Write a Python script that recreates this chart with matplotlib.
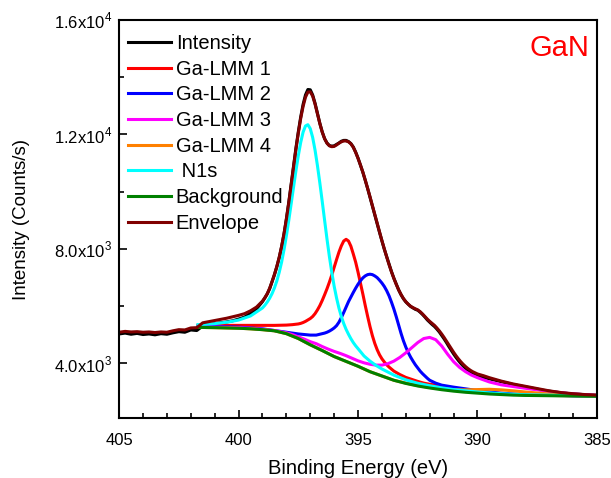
import numpy as np
import matplotlib
matplotlib.use('Agg')
import matplotlib.pyplot as plt
from matplotlib.ticker import MultipleLocator, FixedLocator

plt.rcParams['font.family'] = ['Liberation Sans', 'DejaVu Sans']
plt.rcParams['mathtext.fontset'] = 'custom'
plt.rcParams['mathtext.rm'] = 'Liberation Sans'

# measured spectrum + fit envelope (0.25 eV steps on the flat parts, 0.1 eV across the peaks)
energy_raw = np.round(np.concatenate([np.arange(405.0, 399.2, -0.25),
                                      np.arange(399.0, 389.95, -0.1),
                                      np.arange(389.75, 384.99, -0.25)]), 2)

intensity = [5020, 5050, 5010, 5040, 5000, 5020, 4990, 5030, 5010, 5060,
             5100, 5080, 5160, 5140, 5300, 5330, 5380, 5410, 5440, 5480,
             5540, 5610, 5740, 5900,
             6150, 6280, 6420, 6600, 6840, 7090, 7370, 7690, 8070, 8510,
             9040, 9620, 10250, 10900, 11520, 12090, 12610, 13050, 13380, 13570,
             13560, 13380, 13090, 12740, 12390, 12090, 11850, 11700, 11610, 11590,
             11600, 11650, 11700, 11760, 11790, 11790, 11750, 11680, 11560, 11380,
             11170, 10930, 10680, 10400, 10110, 9800, 9500, 9180, 8880, 8570,
             8270, 7980, 7720, 7450, 7200, 6970, 6760, 6560, 6390, 6250,
             6140, 6060, 5980, 5930, 5880, 5850, 5780, 5700, 5610, 5510,
             5430, 5350, 5280, 5190, 5090, 4970, 4850, 4720, 4580, 4450,
             4320, 4200, 4090, 3990, 3900, 3820, 3750, 3690, 3640, 3600,
             3570,
             3500, 3450, 3400, 3350, 3300, 3250, 3210, 3170, 3130, 3090,
             3050, 3020, 2990, 2960, 2940, 2920, 2910, 2895, 2885, 2875]

envelope = [5080, 5110, 5090, 5100, 5080, 5090, 5070, 5090, 5080, 5130,
            5170, 5160, 5230, 5240, 5410, 5450, 5490, 5530, 5570, 5620,
            5670, 5730, 5830, 5960,
            6170, 6290, 6430, 6620, 6850, 7100, 7380, 7700, 8080, 8520,
            9030, 9600, 10220, 10860, 11480, 12050, 12560, 12980, 13300, 13480,
            13490, 13340, 13060, 12720, 12380, 12080, 11850, 11690, 11600, 11570,
            11580, 11630, 11690, 11740, 11770, 11770, 11740, 11670, 11550, 11370,
            11160, 10930, 10680, 10410, 10120, 9820, 9510, 9200, 8890, 8580,
            8280, 7990, 7710, 7440, 7190, 6960, 6750, 6560, 6400, 6260,
            6150, 6060, 5990, 5940, 5900, 5860, 5800, 5720, 5630, 5540,
            5460, 5390, 5320, 5230, 5130, 5020, 4900, 4770, 4640, 4510,
            4380, 4260, 4150, 4050, 3960, 3880, 3810, 3750, 3700, 3660,
            3620,
            3560, 3490, 3430, 3370, 3320, 3270, 3230, 3190, 3150, 3110,
            3070, 3030, 3000, 2970, 2950, 2930, 2915, 2900, 2890, 2880]

# N1s component
n1s_energy = np.round(np.concatenate([[401.7, 401.0, 400.5, 400.0, 399.5],
                                      np.arange(399.0, 394.95, -0.1),
                                      [394.75, 394.5, 394.25, 394.0, 393.5, 393.0, 392.5, 392.0,
                                       391.5, 391.0, 390.0, 389.0, 388.0, 387.0, 386.0, 385.0]]), 2)
n1s = [5345, 5380, 5430, 5505, 5650,
       5930, 6025, 6138, 6270, 6430, 6630, 6873, 7173, 7531, 7960,
       8450, 8990, 9570, 10155, 10730, 11260, 11720, 12080, 12295, 12340,
       12200, 11895, 11450, 10910, 10305, 9660, 8995, 8340, 7730, 7180,
       6690, 6280, 5925, 5630, 5385, 5180, 5010, 4855, 4720, 4605,
       4505,
       4250, 4070, 3920, 3795, 3580, 3415, 3295, 3210,
       3135, 3075, 2990, 2930, 2895, 2880, 2865, 2852]

# Ga-LMM 1
lmm1_energy = np.round(np.concatenate([[401.7, 401.0, 400.0, 399.0, 398.5, 398.0, 397.75],
                                       np.arange(397.5, 393.45, -0.1),
                                       [393.25, 393.0, 392.75, 392.5, 392.25, 392.0, 391.75, 391.5, 391.0,
                                        390.5, 390.0, 389.5, 389.0, 388.5, 388.0, 387.0, 386.0, 385.0]]), 2)
ga_lmm1 = [5320, 5320, 5320, 5320, 5320, 5330, 5345,
           5370, 5390, 5420, 5460, 5510, 5560, 5630, 5730, 5860, 6010,
           6190, 6390, 6600, 6830, 7080, 7350, 7620, 7880, 8100, 8270,
           8330, 8270, 8090, 7820, 7530, 7180, 6800, 6420, 6020, 5640,
           5280, 4960, 4690, 4470, 4290, 4150, 4040, 3940, 3860, 3790,
           3720,
           3600, 3500, 3430, 3360, 3300, 3260, 3230, 3190, 3120,
           3050, 3000, 2960, 2930, 2910, 2890, 2870, 2860, 2850]

# Ga-LMM 2
lmm2_energy = np.round(np.concatenate([[401.7, 401.0, 400.0, 399.0, 398.0, 397.5, 397.0, 396.75],
                                       np.arange(396.5, 391.95, -0.1),
                                       [391.75, 391.5, 391.0, 390.5, 390.0, 389.5, 389.0, 388.5,
                                        388.0, 387.0, 386.0, 385.0]]), 2)
ga_lmm2 = [5290, 5280, 5260, 5200, 5080, 5020, 4980, 4980,
           5030, 5050, 5080, 5120, 5170, 5230, 5310, 5430, 5590, 5770,
           5960, 6150, 6310, 6470, 6620, 6760, 6880, 6980, 7050, 7095,
           7110, 7095, 7050, 6990, 6900, 6800, 6680, 6530, 6350, 6130,
           5890, 5620, 5330, 5040, 4780, 4560, 4370, 4210, 4070, 3940,
           3830, 3720, 3630, 3550, 3470, 3400,
           3300, 3230, 3160, 3100, 3040, 2990, 2950, 2920,
           2900, 2880, 2860, 2850]

# Ga-LMM 3
lmm3_energy = [401.7, 401.0, 400.5, 400.0, 399.5, 399.0, 398.5, 398.0, 397.75, 397.5,
               397.25, 397.0, 396.75, 396.5, 396.25, 396.0, 395.75, 395.5, 395.25, 395.0,
               394.75, 394.5, 394.25, 394.0, 393.75, 393.5, 393.25, 393.0, 392.75, 392.5,
               392.25, 392.0, 391.75, 391.5, 391.25, 391.0, 390.75, 390.5, 390.25, 390.0,
               389.5, 389.0, 388.5, 388.0, 387.0, 386.0, 385.0]
ga_lmm3 = [5270, 5260, 5250, 5240, 5220, 5185, 5140, 5060, 5000, 4920,
           4840, 4750, 4680, 4580, 4490, 4410, 4340, 4260, 4170, 4080,
           4010, 3960, 3930, 3930, 3980, 4070, 4200, 4360, 4540, 4720,
           4860, 4900, 4820, 4600, 4310, 4050, 3850, 3700, 3580, 3490,
           3340, 3240, 3180, 3120, 3010, 2920, 2870]

# Ga-LMM 4 and background
bg_energy = [401.7, 401.0, 400.5, 400.0, 399.5, 399.0, 398.5, 398.0, 397.5, 397.0,
             396.5, 396.0, 395.5, 395.0, 394.5, 394.0, 393.5, 393.0, 392.5, 392.0,
             391.5, 391.0, 390.5, 390.0, 389.5, 389.0, 388.5, 388.0, 387.0, 386.0,
             385.0]
ga_lmm4 = [5250, 5240, 5230, 5220, 5200, 5170, 5130, 5030, 4860, 4640,
           4440, 4230, 4060, 3890, 3700, 3550, 3400, 3300, 3215, 3150,
           3100, 3070, 3065, 3075, 3085, 3065, 3030, 2990, 2920, 2870,
           2845]
background = [5250, 5240, 5230, 5220, 5200, 5170, 5130, 5030, 4860, 4640,
              4440, 4230, 4060, 3890, 3700, 3550, 3400, 3290, 3200, 3130,
              3070, 3020, 2980, 2950, 2920, 2900, 2880, 2870, 2860, 2850,
              2840]

y_ticks = [4000, 8000, 12000, 16000]
y_ticklabels = [r'4.0x10$^{3}$', r'8.0x10$^{3}$', r'1.2x10$^{4}$', r'1.6x10$^{4}$']

fig = plt.figure(figsize=(6.11, 4.78), dpi=100)
ax = fig.add_axes([0.195, 0.1255, 0.782, 0.8326])

lw = 2.2
ax.plot(energy_raw, intensity, color='black', lw=lw, label='Intensity')
ax.plot(lmm1_energy, ga_lmm1, color='#ff0000', lw=lw, label='Ga-LMM 1')
ax.plot(lmm2_energy, ga_lmm2, color='#0000ff', lw=lw, label='Ga-LMM 2')
ax.plot(lmm3_energy, ga_lmm3, color='#ff00ff', lw=lw, label='Ga-LMM 3')
ax.plot(bg_energy, ga_lmm4, color='#ff8000', lw=lw, label='Ga-LMM 4')
ax.plot(n1s_energy, n1s, color='#00ffff', lw=lw, label=' N1s')
ax.plot(bg_energy, background, color='#008000', lw=lw, label='Background')
ax.plot(energy_raw, envelope, color='#800000', lw=lw, label='Envelope')

ax.set_xlim(405, 385)
ax.set_ylim(2080, 16000)
ax.xaxis.set_major_locator(MultipleLocator(5))
ax.xaxis.set_minor_locator(MultipleLocator(1))
ax.yaxis.set_major_locator(FixedLocator(y_ticks))
ax.yaxis.set_minor_locator(FixedLocator([6000, 10000, 14000]))
ax.set_yticklabels(y_ticklabels)

ax.tick_params(which='both', direction='in', top=False, right=False, labelsize=12)
ax.tick_params(which='major', length=6, width=1.2)
ax.tick_params(which='minor', length=3.5, width=1.2)
ax.tick_params(axis='x', pad=10.5)
ax.tick_params(axis='y', pad=5)
for s in ax.spines.values():
    s.set_linewidth(1.5)

ax.set_xlabel('Binding Energy (eV)', fontsize=14.5, labelpad=8)
ax.set_ylabel('Intensity (Counts/s)', fontsize=13.5, labelpad=17)

ax.text(0.9205, 0.93, 'GaN', color='red', fontsize=21, transform=ax.transAxes,
        ha='center', va='center')

ax.legend(loc='upper left', frameon=False, fontsize=14.5, handlelength=2.1,
          handletextpad=0.25, labelspacing=0.33, borderaxespad=0.3,
          bbox_to_anchor=(-0.01, 1.0))

plt.savefig('out.png', dpi=100)
